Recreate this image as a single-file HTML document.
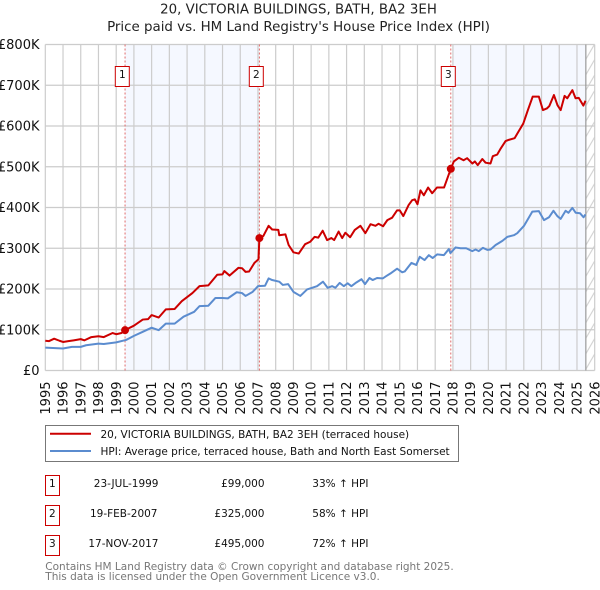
<!DOCTYPE html>
<html lang="en">
<head>
<meta charset="utf-8">
<title>20, Victoria Buildings, Bath - Price paid vs. HPI</title>
<style>
html,body{margin:0;padding:0;background:#fff;width:600px;height:590px;overflow:hidden}
svg{display:block;font-family:"DejaVu Sans","Liberation Sans",sans-serif}
</style>
</head>
<body>
<svg id="chart" xmlns="http://www.w3.org/2000/svg" width="600" height="590" viewBox="0 0 600 590">
  <defs>
    <pattern id="hatch" patternUnits="userSpaceOnUse" width="9" height="15.5" patternTransform="translate(585.7 44)">
      <line x1="0" y1="15.5" x2="9" y2="0" stroke="#cccccc" stroke-width="1"/>
    </pattern>
  </defs>
  <text x="298.5" y="13.5" font-size="13.35" text-anchor="middle" fill="#222">20, VICTORIA BUILDINGS, BATH, BA2 3EH</text>
  <text x="298.5" y="31" font-size="13.4" text-anchor="middle" fill="#222">Price paid vs. HM Land Registry's House Price Index (HPI)</text>
  <g id="bands"></g>
  <g id="grid"></g>
  <g id="ticks"></g>
  <g id="sales-lines"></g>
  <g id="series"></g>
  <g id="sales-marks"></g>

  <g>
    <rect x="45.5" y="425.5" width="413" height="36" fill="#fff" stroke="#777" stroke-width="1"/>
    <line x1="50" x2="91" y1="433.7" y2="433.7" stroke="#cc0000" stroke-width="2"/>
    <text x="100.5" y="438" font-size="10.5" fill="#111">20, VICTORIA BUILDINGS, BATH, BA2 3EH (terraced house)</text>
    <line x1="50" x2="91" y1="451" y2="451" stroke="#5b8ccf" stroke-width="2"/>
    <text x="100.5" y="455" font-size="10.5" fill="#111">HPI: Average price, terraced house, Bath and North East Somerset</text>
  </g>

  <g font-size="10.5" fill="#111">
    <rect x="45.5" y="475.5" width="14" height="20" fill="#fff" stroke="#cc0000"/>
    <text x="52.4" y="487" text-anchor="middle">1</text>
    <text x="158.5" y="487" text-anchor="end">23-JUL-1999</text>
    <text x="264.5" y="487" text-anchor="end">£99,000</text>
    <text x="312.3" y="487">33% ↑ HPI</text>

    <rect x="45.5" y="505.5" width="14" height="20" fill="#fff" stroke="#cc0000"/>
    <text x="52.4" y="517" text-anchor="middle">2</text>
    <text x="157.5" y="517" text-anchor="end">19-FEB-2007</text>
    <text x="264.5" y="517" text-anchor="end">£325,000</text>
    <text x="312.3" y="517">58% ↑ HPI</text>

    <rect x="45.5" y="535.5" width="14" height="20" fill="#fff" stroke="#cc0000"/>
    <text x="52.4" y="547" text-anchor="middle">3</text>
    <text x="158.5" y="547" text-anchor="end">17-NOV-2017</text>
    <text x="264.5" y="547" text-anchor="end">£495,000</text>
    <text x="312.3" y="547">72% ↑ HPI</text>
  </g>

  <text x="45.3" y="570" font-size="10.5" fill="#777">Contains HM Land Registry data © Crown copyright and database right 2025.</text>
  <text x="45.3" y="580" font-size="10.5" fill="#777">This data is licensed under the Open Government Licence v3.0.</text>
</svg>
<script>
var xTickYears = [1995,1996,1997,1998,1999,2000,2001,2002,2003,2004,2005,2006,2007,2008,2009,2010,2011,2012,2013,2014,2015,2016,2017,2018,2019,2020,2021,2022,2023,2024,2025,2026];
var yTickValues = [0,100,200,300,400,500,600,700,800];
var yTickLabels = ["£0","£100K","£200K","£300K","£400K","£500K","£600K","£700K","£800K"];

var priceDates = [1995,1995.2,1995.5,1995.8,1996,1996.3,1996.6,1997,1997.2,1997.6,1998,1998.3,1998.8,1999,1999.3,1999.5,2000,2000.5,2000.8,2001,2001.4,2001.8,2002.3,2002.7,2003.3,2003.7,2004.2,2004.7,2005,2005.1,2005.4,2005.9,2006.1,2006.3,2006.5,2006.8,2007.03,2007.08,2007.3,2007.6,2007.8,2008.15,2008.2,2008.55,2008.73,2009,2009.3,2009.66,2009.95,2010.2,2010.4,2010.65,2010.9,2011.14,2011.3,2011.55,2011.75,2011.93,2012.2,2012.46,2012.78,2013.06,2013.35,2013.63,2013.8,2014.06,2014.3,2014.57,2014.85,2015,2015.2,2015.5,2015.7,2015.85,2016,2016.17,2016.36,2016.6,2016.83,2017.1,2017.5,2017.65,2017.88,2018.05,2018.33,2018.6,2018.8,2019.1,2019.24,2019.4,2019.66,2019.84,2020.12,2020.25,2020.5,2020.7,2020.97,2021.15,2021.48,2021.67,2021.97,2022.23,2022.5,2022.85,2023.08,2023.3,2023.44,2023.7,2023.9,2024.08,2024.3,2024.45,2024.74,2024.92,2025.1,2025.36,2025.48];
var priceValues = [73,72,78,73,70,72,74,77,74,82,84,82,92,89,92,99,110,125,126,136,130,150,151,170,190,207,209,235,236,244,233,252,251,242,243,264,273,325,330,355,346,345,332,334,308,290,287,310,316,328,326,343,320,325,320,341,325,338,327,345,355,337,359,355,360,354,369,375,393,393,379,406,418,420,408,442,430,449,435,449,449,467,495,513,522,516,521,508,513,504,519,510,508,526,530,545,563,566,570,584,606,639,672,672,639,643,649,676,651,639,674,668,688,668,669,650,662];

var hpiDates = [1995,1996,1996.5,1997,1997.3,1998,1998.3,1999,1999.56,2000,2000.5,2001,2001.4,2001.8,2002.3,2002.8,2003.4,2003.7,2004.2,2004.6,2005,2005.3,2005.8,2006.1,2006.3,2006.7,2007,2007.4,2007.6,2007.8,2008.2,2008.4,2008.7,2009,2009.39,2009.77,2010.33,2010.67,2010.93,2011.18,2011.37,2011.61,2011.84,2012.06,2012.27,2012.55,2012.84,2013.04,2013.29,2013.47,2013.72,2014.04,2014.25,2014.47,2014.85,2015.14,2015.28,2015.66,2015.93,2016.13,2016.4,2016.64,2016.86,2017.11,2017.49,2017.77,2017.86,2018.15,2018.43,2018.75,2019.09,2019.28,2019.46,2019.69,2019.94,2020.12,2020.41,2020.79,2021.07,2021.44,2021.63,2022.01,2022.48,2022.85,2023.14,2023.42,2023.67,2023.89,2024.08,2024.36,2024.52,2024.74,2024.93,2025.17,2025.37,2025.48];
var hpiValues = [56,54,58,58,62,66,65,69,75,85,95,105,99,115,115,132,144,158,159,178,178,177,192,190,183,193,207,208,226,222,218,210,212,193,183,199,207,218,203,207,203,215,207,214,207,216,224,212,227,222,227,226,232,238,250,241,243,264,259,279,271,283,276,285,283,298,288,302,300,300,293,297,293,301,296,297,308,318,328,332,337,355,390,391,369,376,392,379,372,392,387,399,387,386,376,383];

var saleNumbers = [1,2,3];
var saleDates = [1999.5,2007.08,2017.88];
var salePrices = [99,325,495];

var shadedRanges = [[1999.5,2007.08],[2018,2025.5]];
var dataEndYear = 2025.5;

var NS = "http://www.w3.org/2000/svg";
var plot = {left:45.3, right:594.7, top:44.5, bottom:370.5};
function xScale(year){ return plot.left + (year - 1995) * (plot.right - plot.left) / 31; }
function yScale(value){ return plot.bottom - value * (plot.bottom - plot.top) / 800; }
function mk(tag, attrs, parent){
  var el = document.createElementNS(NS, tag);
  for (var k in attrs) el.setAttribute(k, attrs[k]);
  parent.appendChild(el);
  return el;
}
var gBands = document.getElementById("bands");
var gGrid = document.getElementById("grid");
var gTicks = document.getElementById("ticks");
var gLines = document.getElementById("sales-lines");
var gSeries = document.getElementById("series");
var gMarks = document.getElementById("sales-marks");

shadedRanges.forEach(function(r){
  var el = mk("rect", {x:xScale(r[0]), y:plot.top, width:xScale(r[1])-xScale(r[0]), height:plot.bottom-plot.top, fill:"#f5f8ff"}, gBands);
  
  
});
var hatchRect = mk("rect", {x:xScale(dataEndYear), y:plot.top, width:plot.right-xScale(dataEndYear), height:plot.bottom-plot.top, fill:"url(#hatch)"}, gBands);



xTickYears.forEach(function(y){
  var x = xScale(y);
  var l = mk("line", {x1:x, x2:x, y1:plot.top, y2:plot.bottom, stroke:"#cccccc", "stroke-width":1.2}, gGrid);
  
  
  var t = mk("text", {transform:"translate("+(x+4.6)+",381.5) rotate(-90)", "font-size":13, "text-anchor":"end", fill:"#111"}, gTicks);
  t.textContent = y;
  
  
});
yTickValues.forEach(function(v,i){
  var y = yScale(v);
  var l = mk("line", {x1:plot.left, x2:plot.right, y1:y, y2:y, stroke:"#cccccc", "stroke-width":1.2}, gGrid);
  
  
  var t = mk("text", {x:39.5, y:y+4.7, "font-size":13, "text-anchor":"end", fill:"#111"}, gTicks);
  t.textContent = yTickLabels[i];
  
  
});
var endLine = mk("line", {x1:xScale(dataEndYear), x2:xScale(dataEndYear), y1:plot.top, y2:plot.bottom, stroke:"#999999", "stroke-width":1.2}, gGrid);



saleDates.forEach(function(d){
  var x = xScale(d);
  var l = mk("line", {x1:x, x2:x, y1:plot.top, y2:plot.bottom, stroke:"#e06a6a", "stroke-width":1, "stroke-dasharray":"2 2"}, gLines);
  
  
});

function linePath(dates, values){
  return dates.map(function(d,i){ return (i?"L":"M") + xScale(d).toFixed(2) + " " + yScale(values[i]).toFixed(2); }).join(" ");
}
var hpiLine = mk("path", {d:linePath(hpiDates,hpiValues), fill:"none", stroke:"#5b8ccf", "stroke-width":2, "stroke-linejoin":"round"}, gSeries);


var priceLine = mk("path", {d:linePath(priceDates,priceValues), fill:"none", stroke:"#cc0000", "stroke-width":2, "stroke-linejoin":"round"}, gSeries);



saleDates.forEach(function(d,i){
  var x = xScale(d);
  var c = mk("circle", {cx:x, cy:yScale(salePrices[i]), r:4, fill:"#cc0000"}, gMarks);
  
  
  var b = mk("rect", {x:Math.round(x-10)+0.3, y:66.5, width:14, height:20, fill:"#fff", stroke:"#cc0000", "stroke-width":1}, gMarks);
  
  
  var t = mk("text", {x:Math.round(x-10)+7.3, y:78, "font-size":10.5, "text-anchor":"middle", fill:"#111"}, gMarks);
  t.textContent = saleNumbers[i];
  
  
});
</script>
</body>
</html>
